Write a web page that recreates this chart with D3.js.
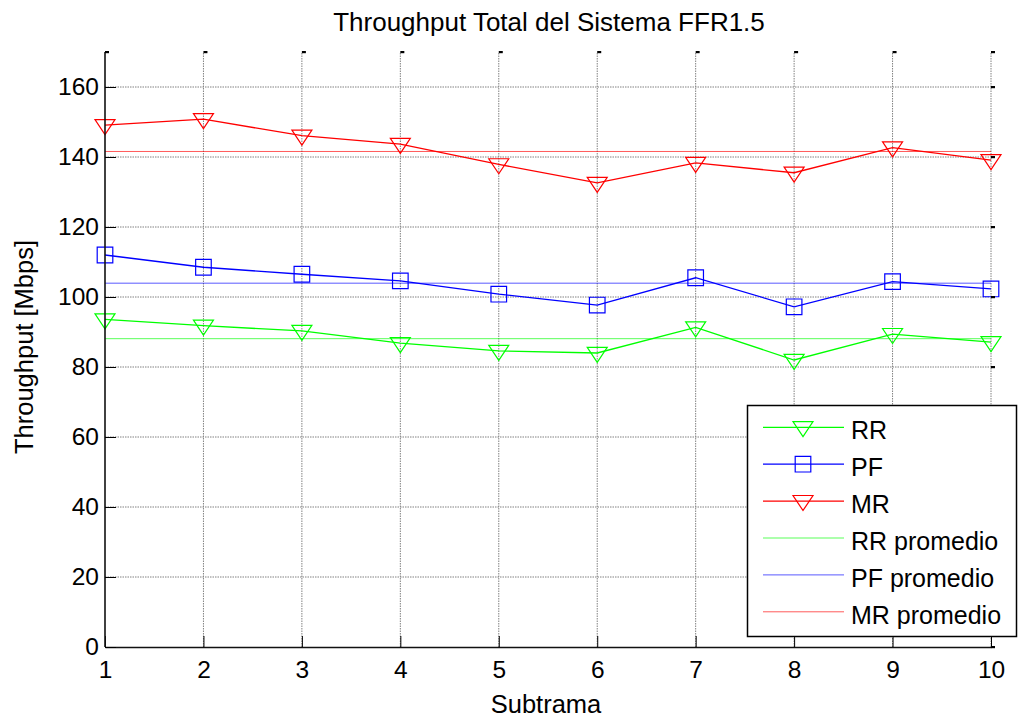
<!DOCTYPE html>
<html>
<head>
<meta charset="utf-8">
<script src="https://cdn.jsdelivr.net/npm/d3@7/dist/d3.min.js"></script>
<style>
  html, body { margin: 0; padding: 0; background: #fff; }
  svg { display: block; font-family: "Liberation Sans", Arial, sans-serif; }
</style>
</head>
<body>
<svg id="chart" width="1018" height="719"></svg>
<script>
// Subframe index and throughput per scheduler (Mbps)
const subtramas = [1, 2, 3, 4, 5, 6, 7, 8, 9, 10];
const rrValues = [93.6, 91.8, 90.3, 86.8, 84.6, 84.0, 91.3, 82.0, 89.4, 87.1];
const pfValues = [112.0, 108.5, 106.5, 104.6, 100.8, 97.7, 105.5, 97.2, 104.4, 102.3];
const mrValues = [149.1, 150.8, 146.1, 143.7, 137.9, 132.6, 138.3, 135.5, 142.7, 139.1];
const xTicks = [1, 2, 3, 4, 5, 6, 7, 8, 9, 10];
const yTicks = [0, 20, 40, 60, 80, 100, 120, 140, 160];
const legendLabels = ["RR", "PF", "MR", "RR promedio", "PF promedio", "MR promedio"];

const svg = d3.select("#chart");
const W = 1018, H = 719;
svg.append("rect").attr("width", W).attr("height", H).attr("fill", "#fff");

const x = d3.scaleLinear().domain([1, 10]).range([105, 991]);
const y = d3.scaleLinear().domain([0, 170]).range([647, 52]);

const GREEN = "#00ff00", BLUE = "#0000ff", RED = "#ff0000";

// Dotted grid
const grid = svg.append("g");
grid.selectAll("line.gx").data(xTicks.slice(1)).join("line")
  .attr("x1", d => x(d)).attr("x2", d => x(d))
  .attr("y1", y(0)).attr("y2", y(170))
  .attr("stroke", "#808080").attr("stroke-width", 1)
  .attr("stroke-dasharray", "1.5,1");
grid.selectAll("line.gy").data(yTicks.slice(1)).join("line")
  .attr("x1", x(1)).attr("x2", x(10))
  .attr("y1", d => y(d)).attr("y2", d => y(d))
  .attr("stroke", "#808080").attr("stroke-width", 1)
  .attr("stroke-dasharray", "1.5,1");

// Series definitions
const series = [
  { name: "RR", values: rrValues, color: GREEN, marker: "tri" },
  { name: "PF", values: pfValues, color: BLUE, marker: "sq" },
  { name: "MR", values: mrValues, color: RED, marker: "tri" }
];

// Average lines
series.forEach(s => {
  const m = d3.mean(s.values);
  svg.append("line")
    .attr("x1", x(1)).attr("x2", x(10))
    .attr("y1", y(m)).attr("y2", y(m))
    .attr("stroke", s.color).attr("stroke-width", 1)
    .attr("stroke-opacity", 0.65);
});

const triPath = "M-10,-5.6L10,-5.6L0,9.4Z";
const sqPath = "M-7.8,-7.8L7.8,-7.8L7.8,7.8L-7.8,7.8Z";

const line = d3.line().x((d, i) => x(subtramas[i])).y(d => y(d));

series.forEach(s => {
  svg.append("path")
    .attr("d", line(s.values))
    .attr("fill", "none").attr("stroke", s.color).attr("stroke-width", 1.3);
  svg.append("g").selectAll("path").data(s.values).join("path")
    .attr("transform", (d, i) => `translate(${x(subtramas[i])},${y(d)})`)
    .attr("d", s.marker === "tri" ? triPath : sqPath)
    .attr("fill", "none").attr("stroke", s.color).attr("stroke-width", 1.2);
});

// Axes: left and bottom lines with inward ticks
const xAxis = d3.axisBottom(x).tickValues(xTicks).tickSizeInner(-11).tickSizeOuter(0).tickPadding(14);
const yAxis = d3.axisLeft(y).tickValues(yTicks).tickSizeInner(-11).tickSizeOuter(0).tickPadding(6);

const gx = svg.append("g").attr("transform", `translate(0,${y(0)})`).call(xAxis);
const gy = svg.append("g").attr("transform", `translate(${x(1)},0)`).call(yAxis);
[gx, gy].forEach(g => {
  g.select(".domain").attr("stroke", "#111").attr("stroke-width", 1.6);
  g.selectAll(".tick line").attr("stroke", "#000").attr("stroke-width", 1);
  g.selectAll(".tick text").attr("fill", "#000").attr("font-size", 24.5)
    .attr("font-family", "Liberation Sans, Arial, sans-serif");
});
gy.select(".domain").attr("d", `M0,${y(170)}V${y(0)}`);

// Short marks along the top and right edges
svg.append("g").selectAll("rect").data(xTicks).join("rect")
  .attr("x", d => x(d)).attr("y", y(170) - 1).attr("width", 4).attr("height", 2.2).attr("fill", "#000");
svg.append("g").selectAll("rect").data(yTicks).join("rect")
  .attr("x", x(10)).attr("y", d => y(d) - 1).attr("width", 4).attr("height", 2.2).attr("fill", "#000");

// Title and axis labels
svg.append("text").attr("x", 549).attr("y", 31).attr("text-anchor", "middle")
  .attr("font-size", 26).attr("fill", "#000").text("Throughput Total del Sistema FFR1.5");
svg.append("text").attr("x", 546).attr("y", 713).attr("text-anchor", "middle")
  .attr("font-size", 25.5).attr("fill", "#000").text("Subtrama");
svg.append("text").attr("transform", "translate(33,347) rotate(-90)").attr("text-anchor", "middle")
  .attr("font-size", 25.5).attr("fill", "#000").text("Throughput [Mbps]");

// Legend
const lg = svg.append("g");
lg.append("rect").attr("x", 747.5).attr("y", 405.5).attr("width", 269).attr("height", 231)
  .attr("fill", "#fff").attr("stroke", "#000").attr("stroke-width", 1.5);
const legendItems = [
  { label: legendLabels[0], color: GREEN, marker: "tri", avg: false },
  { label: legendLabels[1], color: BLUE, marker: "sq", avg: false },
  { label: legendLabels[2], color: RED, marker: "tri", avg: false },
  { label: legendLabels[3], color: GREEN, marker: null, avg: true },
  { label: legendLabels[4], color: BLUE, marker: null, avg: true },
  { label: legendLabels[5], color: RED, marker: null, avg: true }
];
const rowY = i => 427.3 + i * 36.9;
legendItems.forEach((it, i) => {
  const yy = rowY(i);
  lg.append("line").attr("x1", 763).attr("x2", 844).attr("y1", yy).attr("y2", yy)
    .attr("stroke", it.color).attr("stroke-width", it.avg ? 1 : 1.3)
    .attr("stroke-opacity", it.avg ? 0.65 : 1);
  if (it.marker) {
    lg.append("path").attr("transform", `translate(803,${yy})`)
      .attr("d", it.marker === "tri" ? triPath : sqPath)
      .attr("fill", "none").attr("stroke", it.color).attr("stroke-width", 1.2);
  }
  lg.append("text").attr("x", 851).attr("y", yy + 11.8)
    .attr("font-size", 25).attr("fill", "#000").text(it.label);
});
</script>
</body>
</html>
